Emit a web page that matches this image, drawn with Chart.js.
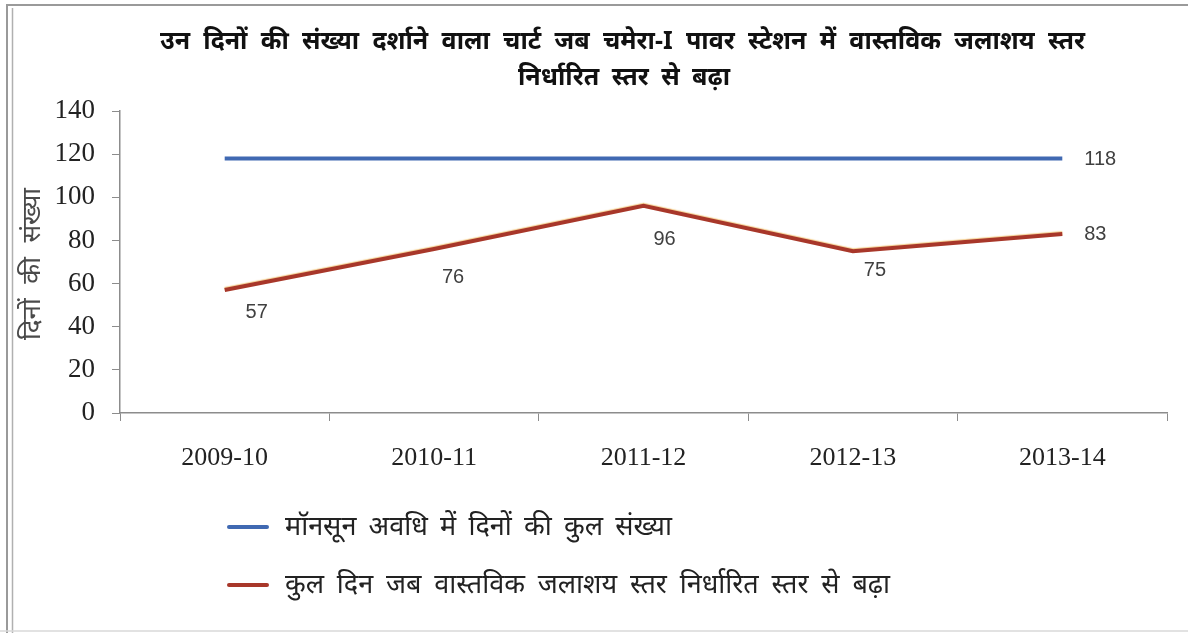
<!DOCTYPE html>
<html>
<head>
<meta charset="utf-8">
<script src="https://cdn.jsdelivr.net/npm/chart.js@4.4.1/dist/chart.umd.min.js"></script>
<style>
  html, body { margin: 0; padding: 0; background: #fff; }
  #wrap { width: 1188px; height: 633px; }
</style>
</head>
<body>
<div id="wrap"><canvas id="jalashayChart" width="1188" height="633"></canvas></div>
<script>
// डेटा
const varsh = ["2009-10", "2010-11", "2011-12", "2012-13", "2013-14"];
const monsoonDin = [118, 118, 118, 118, 118];
const badheDin = [57, 76, 96, 75, 83];
const yTicks = [0, 20, 40, 60, 80, 100, 120, 140];

const shirshak = [
  "उन दिनों की संख्या दर्शाने वाला चार्ट जब चमेरा-I पावर स्टेशन में वास्तविक जलाशय स्तर",
  "निर्धारित स्तर से बढ़ा"
];
const yShirshak = "दिनों की संख्या";
const naamMonsoon = "मॉनसून अवधि में दिनों की कुल संख्या";
const naamBadhe = "कुल दिन जब वास्तविक जलाशय स्तर निर्धारित स्तर से बढ़ा";

const hindiFont = "'Noto Sans', 'Noto Sans Devanagari', 'DejaVu Sans', sans-serif";
const serifFont = "'Liberation Serif', 'Times New Roman', serif";
const blue = "#4069b2";
const red = "#a8372a";

// label offsets relative to the point (px)
const labelOffsets = {
  0: { 4: [38, 1] },
  1: { 0: [32, 22], 1: [19, 28], 2: [21, 34], 3: [22, 19], 4: [33, 1] }
};

// draws words spread out so the line spans x0..x1
function spreadText(ctx, text, x0, x1, y) {
  const words = text.split(" ");
  const widths = words.map(w => ctx.measureText(w).width);
  const total = widths.reduce((a, b) => a + b, 0);
  const gap = words.length > 1 ? Math.max(6, (x1 - x0 - total) / (words.length - 1)) : 0;
  let x = x0;
  words.forEach((w, i) => {
    ctx.fillText(w, x, y);
    x += widths[i] + gap;
  });
}

const chromePlugin = {
  id: "chrome",
  beforeDraw(chart) {
    const ctx = chart.ctx;
    ctx.save();
    ctx.fillStyle = "#fff";
    ctx.fillRect(0, 0, chart.width, chart.height);
    ctx.strokeStyle = "#9a9a9a";
    ctx.lineWidth = 2;
    ctx.beginPath();
    ctx.moveTo(7, 633); ctx.lineTo(7, 5); ctx.lineTo(1188, 5);
    ctx.stroke();
    ctx.lineWidth = 1.5;
    ctx.strokeStyle = "#b0b0b0";
    ctx.beginPath();
    ctx.moveTo(12.5, 633); ctx.lineTo(12.5, 8);
    ctx.stroke();
    ctx.strokeStyle = "#d8d8d8";
    ctx.beginPath();
    ctx.moveTo(0, 631); ctx.lineTo(1188, 631);
    ctx.stroke();
    ctx.restore();
  },
  beforeDatasetDraw(chart, args) {
    if (args.index === 1) {
      const ctx = chart.ctx;
      ctx.save();
      ctx.shadowColor = "rgba(235, 175, 70, 0.6)";
      ctx.shadowOffsetY = -1;
      ctx.shadowBlur = 1;
    }
  },
  afterDatasetDraw(chart, args) {
    if (args.index === 1) chart.ctx.restore();
  },
  afterDraw(chart) {
    const ctx = chart.ctx;
    ctx.save();
    ctx.textBaseline = "middle";

    // शीर्षक
    ctx.fillStyle = "#111";
    ctx.font = "bold 25px " + hindiFont;
    ctx.textAlign = "left";
    spreadText(ctx, shirshak[0], 160, 1085, 42);
    spreadText(ctx, shirshak[1], 518, 730, 78);

    // y-axis title
    ctx.save();
    ctx.translate(33, 264);
    ctx.rotate(-Math.PI / 2);
    ctx.fillStyle = "#4a4a4a";
    ctx.font = "26px " + hindiFont;
    spreadText(ctx, yShirshak, -76, 76, 0);
    ctx.restore();

    // data labels
    ctx.textAlign = "center";
    ctx.font = "20px 'Liberation Sans', Arial, sans-serif";
    ctx.fillStyle = "#404040";
    chart.data.datasets.forEach((ds, di) => {
      const meta = chart.getDatasetMeta(di);
      const offs = labelOffsets[di] || {};
      Object.keys(offs).forEach(i => {
        const pt = meta.data[i];
        const [dx, dy] = offs[i];
        ctx.fillText(ds.data[i], pt.x + dx, pt.y + dy);
      });
    });

    // legend
    ctx.textAlign = "left";
    ctx.font = "27px " + hindiFont;
    ctx.fillStyle = "#222";
    const rows = [[527, 672], [585, 890]];
    chart.data.datasets.forEach((ds, di) => {
      const [y, xEnd] = rows[di];
      ctx.strokeStyle = ds.borderColor;
      ctx.lineWidth = 4;
      ctx.lineCap = "round";
      ctx.beginPath();
      ctx.moveTo(229, y);
      ctx.lineTo(267, y);
      ctx.stroke();
      spreadText(ctx, ds.label, 285, xEnd, y);
    });
    ctx.restore();
  }
};

new Chart(document.getElementById("jalashayChart"), {
  type: "line",
  data: {
    labels: varsh,
    datasets: [
      {
        label: naamMonsoon,
        data: monsoonDin,
        borderColor: blue,
        borderWidth: 4,
        pointRadius: 0,
        tension: 0
      },
      {
        label: naamBadhe,
        data: badheDin,
        borderColor: red,
        borderWidth: 4,
        pointRadius: 0,
        tension: 0
      }
    ]
  },
  options: {
    responsive: false,
    animation: false,
    layout: { padding: { left: 14, right: 21, top: 111, bottom: 130 } },
    plugins: {
      legend: { display: false },
      title: { display: false },
      tooltip: { enabled: false }
    },
    scales: {
      x: {
        offset: true,
        grid: { drawOnChartArea: false, offset: true, tickLength: 8, color: "#8c8c8c" },
        border: { color: "#8c8c8c", width: 1.5 },
        ticks: { color: "#222", padding: 22, font: { family: serifFont, size: 26 }, maxRotation: 0 },
        afterFit(scale) { scale.height = 90; }
      },
      y: {
        min: 0,
        max: 140,
        afterBuildTicks(scale) { scale.ticks = yTicks.map(v => ({ value: v })); },
        grid: { drawOnChartArea: false, tickLength: 8, color: "#8c8c8c" },
        border: { color: "#8c8c8c", width: 1.5 },
        ticks: { color: "#222", padding: 17, font: { family: serifFont, size: 27 } },
        afterFit(scale) { scale.width = 106; }
      }
    }
  },
  plugins: [chromePlugin]
});
</script>
</body>
</html>
